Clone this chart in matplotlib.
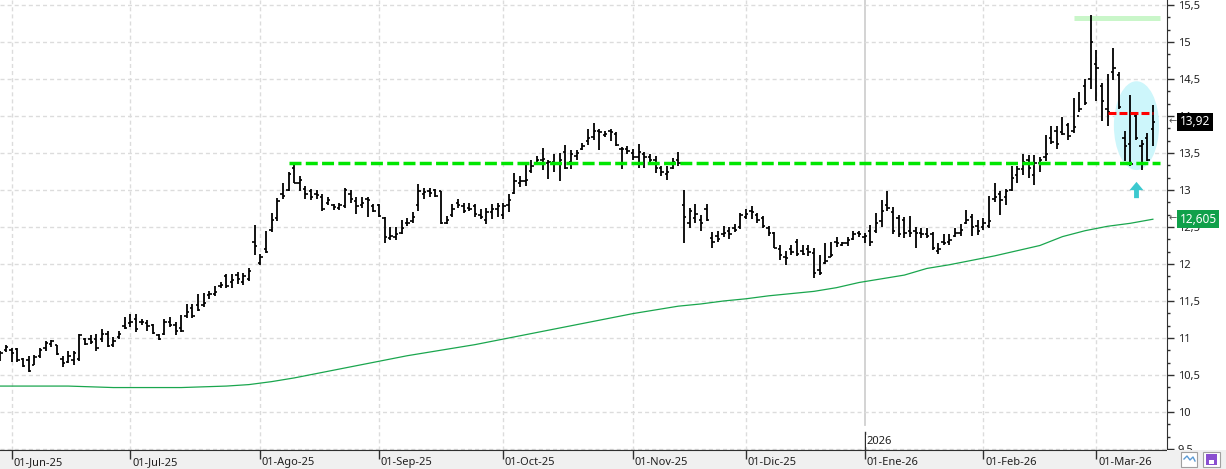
#!/usr/bin/env python3
import numpy as np
import pandas as pd
import matplotlib
matplotlib.use('Agg')
import matplotlib.pyplot as plt
from matplotlib.patches import Ellipse, Rectangle
from matplotlib.lines import Line2D
from matplotlib.ticker import MultipleLocator, FuncFormatter
from matplotlib.transforms import blended_transform_factory

plt.rcParams['font.family'] = ['Noto Sans', 'DejaVu Sans']

# trading calendar
START = '2025-05-29'
HOLIDAYS = ['2025-12-25', '2025-12-26', '2026-01-01']
MONTH_LABELS = ['01-Jun-25', '01-Jul-25', '01-Ago-25', '01-Sep-25', '01-Oct-25',
                '01-Nov-25', '01-Dic-25', '01-Ene-26', '01-Feb-26', '01-Mar-26']

# daily bars
OPENS = [10.75, 10.84, 10.84, 10.85, 10.72, 10.70, 10.64, 10.76, 10.86, 10.92,
         10.90, 10.72, 10.68, 10.70, 10.72, 10.98, 10.98, 10.98, 10.98, 11.05,
         10.90, 11.02, 11.16, 11.20, 11.25, 11.22, 11.20, 11.17, 11.04, 11.05,
         11.22, 11.18, 11.14, 11.30, 11.40, 11.45, 11.44, 11.58, 11.60, 11.70,
         11.84, 11.76, 11.85, 11.76, 11.80, 12.30, 12.02, 12.20, 12.46, 12.62,
         12.95, 13.00, 13.30, 13.10, 13.02, 12.98, 12.95, 12.90, 12.82, 12.80,
         12.76, 12.78, 12.95, 12.85, 12.80, 12.88, 12.78, 12.80, 12.62, 12.35,
         12.36, 12.42, 12.56, 12.58, 12.80, 12.95, 12.98, 13.00, 12.98, 12.56,
         12.66, 12.82, 12.78, 12.76, 12.78, 12.66, 12.60, 12.70, 12.74, 12.66,
         12.80, 12.96, 13.10, 13.12, 13.26, 13.36, 13.40, 13.36, 13.38, 13.36,
         13.52, 13.38, 13.46, 13.56, 13.66, 13.72, 13.80, 13.74, 13.80, 13.76,
         13.55, 13.56, 13.50, 13.45, 13.48, 13.44, 13.40, 13.30, 13.22, 13.30,
         13.40, 12.80, 12.55, 12.62, 12.60, 12.75, 12.35, 12.38, 12.40, 12.44,
         12.48, 12.50, 12.64, 12.72, 12.66, 12.62, 12.48, 12.42, 12.20, 12.10,
         12.20, 12.30, 12.18, 12.20, 12.15, 11.92, 12.02, 12.10, 12.30, 12.26,
         12.28, 12.34, 12.42, 12.36, 12.45, 12.45, 12.58, 12.80, 12.70, 12.62,
         12.60, 12.45, 12.44, 12.42, 12.40, 12.40, 12.18, 12.30, 12.30, 12.38,
         12.42, 12.56, 12.64, 12.52, 12.50, 12.52, 12.88, 12.95, 12.90, 13.00,
         13.20, 13.28, 13.40, 13.20, 13.36, 13.44, 13.70, 13.80, 13.78, 13.88,
         13.80, 14.00, 14.40, 14.50, 14.70, 14.40, 14.10, 14.60, 14.55, 13.70,
         13.62, 14.00, 13.60, 13.70, 13.82]
HIGHS = [10.83, 10.90, 10.86, 10.87, 10.73, 10.75, 10.77, 10.86, 10.96, 10.97,
         10.90, 10.75, 10.83, 10.83, 11.06, 11.00, 11.04, 11.06, 11.12, 11.09,
         11.01, 11.09, 11.28, 11.32, 11.33, 11.26, 11.24, 11.19, 11.06, 11.26,
         11.28, 11.21, 11.31, 11.46, 11.46, 11.59, 11.61, 11.64, 11.70, 11.75,
         11.86, 11.86, 11.89, 11.88, 11.94, 12.53, 12.13, 12.44, 12.69, 12.89,
         13.09, 13.25, 13.36, 13.19, 13.05, 13.01, 13.00, 12.95, 12.91, 12.81,
         12.82, 13.03, 13.00, 12.90, 12.90, 12.91, 12.81, 12.81, 12.64, 12.50,
         12.50, 12.60, 12.62, 12.70, 13.08, 13.03, 13.03, 13.01, 12.99, 12.65,
         12.81, 12.88, 12.82, 12.82, 12.81, 12.75, 12.76, 12.81, 12.83, 12.82,
         12.94, 13.23, 13.19, 13.36, 13.40, 13.46, 13.57, 13.41, 13.48, 13.50,
         13.61, 13.54, 13.54, 13.64, 13.83, 13.90, 13.82, 13.80, 13.82, 13.78,
         13.58, 13.60, 13.55, 13.62, 13.51, 13.48, 13.46, 13.33, 13.32, 13.43,
         13.51, 13.00, 12.76, 12.81, 12.66, 12.81, 12.43, 12.44, 12.52, 12.50,
         12.54, 12.69, 12.75, 12.78, 12.69, 12.65, 12.52, 12.43, 12.25, 12.18,
         12.26, 12.34, 12.25, 12.25, 12.21, 12.12, 12.29, 12.30, 12.37, 12.30,
         12.37, 12.45, 12.44, 12.42, 12.53, 12.69, 12.86, 12.98, 12.77, 12.66,
         12.64, 12.65, 12.50, 12.48, 12.48, 12.43, 12.28, 12.40, 12.40, 12.49,
         12.54, 12.73, 12.68, 12.59, 12.62, 12.92, 13.09, 12.98, 13.02, 13.32,
         13.32, 13.48, 13.47, 13.47, 13.45, 13.74, 13.86, 13.86, 13.98, 13.90,
         14.24, 14.32, 14.50, 15.37, 14.89, 14.45, 14.57, 14.92, 14.60, 13.80,
         14.29, 14.02, 13.68, 13.77, 14.15]
LOWS = [10.69, 10.81, 10.68, 10.68, 10.61, 10.54, 10.63, 10.73, 10.83, 10.88,
        10.77, 10.61, 10.66, 10.63, 10.69, 10.90, 10.92, 10.83, 10.95, 10.88,
        10.88, 10.99, 11.12, 11.15, 11.08, 11.17, 11.10, 11.06, 10.97, 11.04,
        11.15, 11.04, 11.08, 11.27, 11.27, 11.36, 11.42, 11.53, 11.57, 11.67,
        11.68, 11.67, 11.73, 11.71, 11.77, 12.12, 11.98, 12.15, 12.43, 12.58,
        12.88, 12.98, 13.09, 12.99, 12.88, 12.87, 12.88, 12.71, 12.80, 12.73,
        12.73, 12.76, 12.83, 12.67, 12.76, 12.63, 12.70, 12.64, 12.29, 12.32,
        12.33, 12.40, 12.52, 12.56, 12.72, 12.88, 12.91, 12.90, 12.54, 12.54,
        12.63, 12.76, 12.69, 12.72, 12.64, 12.61, 12.54, 12.61, 12.63, 12.61,
        12.70, 12.94, 13.04, 13.05, 13.23, 13.34, 13.27, 13.15, 13.25, 13.12,
        13.28, 13.28, 13.41, 13.54, 13.61, 13.68, 13.54, 13.72, 13.66, 13.59,
        13.28, 13.48, 13.41, 13.30, 13.30, 13.34, 13.23, 13.19, 13.13, 13.28,
        13.32, 12.29, 12.48, 12.56, 12.45, 12.58, 12.21, 12.30, 12.36, 12.34,
        12.43, 12.47, 12.61, 12.61, 12.56, 12.48, 12.38, 12.21, 12.05, 11.99,
        12.12, 12.11, 12.12, 12.11, 11.81, 11.85, 12.00, 12.09, 12.23, 12.24,
        12.24, 12.32, 12.36, 12.29, 12.24, 12.42, 12.50, 12.71, 12.41, 12.37,
        12.35, 12.37, 12.21, 12.35, 12.35, 12.19, 12.14, 12.26, 12.26, 12.36,
        12.38, 12.54, 12.38, 12.39, 12.46, 12.48, 12.84, 12.66, 12.80, 12.99,
        13.09, 13.20, 13.16, 13.07, 13.25, 13.39, 13.62, 13.56, 13.74, 13.68,
        13.77, 14.05, 14.15, 14.37, 14.20, 13.93, 13.86, 14.49, 14.09, 13.39,
        13.32, 13.68, 13.27, 13.39, 13.59]
CLOSES = [10.80, 10.88, 10.80, 10.70, 10.62, 10.56, 10.74, 10.84, 10.93, 10.96,
          10.78, 10.66, 10.76, 10.80, 11.04, 10.92, 10.95, 10.86, 11.05, 10.89,
          10.96, 11.05, 11.14, 11.22, 11.12, 11.21, 11.16, 11.07, 10.99, 11.22,
          11.18, 11.10, 11.09, 11.35, 11.30, 11.38, 11.47, 11.60, 11.62, 11.72,
          11.70, 11.78, 11.80, 11.84, 11.90, 12.24, 12.10, 12.16, 12.60, 12.85,
          12.92, 13.22, 13.10, 13.14, 12.95, 12.90, 12.93, 12.74, 12.86, 12.77,
          12.80, 13.00, 12.88, 12.78, 12.83, 12.86, 12.72, 12.65, 12.36, 12.38,
          12.40, 12.48, 12.55, 12.64, 12.98, 12.97, 12.96, 12.92, 12.56, 12.60,
          12.74, 12.80, 12.72, 12.74, 12.68, 12.64, 12.70, 12.74, 12.78, 12.78,
          12.86, 13.12, 13.12, 13.14, 13.32, 13.40, 13.42, 13.38, 13.35, 13.40,
          13.30, 13.48, 13.50, 13.60, 13.70, 13.80, 13.78, 13.76, 13.78, 13.61,
          13.56, 13.53, 13.45, 13.52, 13.44, 13.40, 13.30, 13.25, 13.24, 13.38,
          13.36, 12.64, 12.72, 12.68, 12.56, 12.60, 12.30, 12.34, 12.42, 12.40,
          12.46, 12.66, 12.68, 12.70, 12.60, 12.52, 12.42, 12.22, 12.12, 12.08,
          12.16, 12.14, 12.14, 12.16, 11.88, 11.88, 12.04, 12.12, 12.28, 12.28,
          12.32, 12.40, 12.40, 12.38, 12.30, 12.56, 12.72, 12.76, 12.45, 12.40,
          12.42, 12.42, 12.42, 12.40, 12.38, 12.22, 12.20, 12.28, 12.32, 12.42,
          12.46, 12.60, 12.50, 12.45, 12.55, 12.58, 12.90, 12.86, 12.98, 13.16,
          13.28, 13.38, 13.30, 13.36, 13.40, 13.48, 13.65, 13.62, 13.76, 13.73,
          13.85, 14.10, 14.18, 15.00, 14.65, 14.20, 14.05, 14.65, 14.12, 13.60,
          13.35, 13.70, 13.62, 13.40, 13.92]

# moving average, one value every MA_STEP bars
MA_STEP = 4
MA_LONG = [10.35, 10.35, 10.35, 10.35, 10.34, 10.33, 10.33, 10.33, 10.33, 10.34,
           10.35, 10.37, 10.41, 10.46, 10.52, 10.58, 10.64, 10.70, 10.76, 10.81,
           10.86, 10.91, 10.97, 11.03, 11.09, 11.15, 11.21, 11.27, 11.33, 11.38,
           11.43, 11.46, 11.50, 11.53, 11.57, 11.60, 11.63, 11.68, 11.75, 11.80,
           11.85, 11.94, 11.99, 12.05, 12.11, 12.18, 12.25, 12.37, 12.45, 12.51,
           12.55, 12.605]

SUPPORT = 13.36
RESIST = 14.04
TOP_LEVEL = 15.32


def comma(v, pos=None):
    return f'{v:g}'.replace('.', ',')


def main():
    n = len(CLOSES)
    days = pd.bdate_range(START, periods=n + 10)
    days = days[~days.isin(pd.to_datetime(HOLIDAYS))][:n]
    x = np.arange(n)
    firsts = [i for i in range(1, n) if days[i].month != days[i - 1].month]
    new_year = [i for i in firsts if days[i].year != days[i - 1].year]

    W, H = 1226, 469
    fig = plt.figure(figsize=(W / 100, H / 100), dpi=100)
    ax = fig.add_axes([0, 19 / H, 1167 / W, 450 / H], zorder=1)
    ax.set_xlim(-0.07, 206.5)
    ax.set_ylim(9.486, 15.568)

    # grid
    grid_ls = (0, (2.9, 2.2))
    for i in firsts:
        if i in new_year:
            ax.axvline(i, ymin=0.055, color='#d0d0d0', lw=1.3, zorder=0)
        else:
            ax.axvline(i, color='#dcdcdc', lw=1, linestyle=grid_ls, zorder=0)
    ax.yaxis.set_major_locator(MultipleLocator(0.5))
    ax.yaxis.set_minor_locator(MultipleLocator(0.5 / 3))
    ax.yaxis.set_major_formatter(FuncFormatter(comma))
    ax.grid(True, axis='y', which='major', color='#dcdcdc', lw=1, linestyle=grid_ls)
    ax.set_axisbelow(True)

    # annotations behind the bars
    ax.add_patch(Ellipse((201.1, 13.87), 8.0, 1.2, fc='#cdf6fb', ec='none', zorder=1))
    ax.plot([190.0, 205.2], [TOP_LEVEL] * 2, color='#c9f6c9', lw=3.6,
            solid_capstyle='butt', zorder=1)

    # moving average
    ax.plot(x[::MA_STEP], MA_LONG, color='#1aa64e', lw=0.9, zorder=2)

    # OHLC bars
    ax.vlines(x, LOWS, HIGHS, color='black', lw=1.3, zorder=3)
    ax.hlines(OPENS, x - 0.42, x, color='black', lw=1.2, zorder=3)
    ax.hlines(CLOSES, x, x + 0.42, color='black', lw=1.2, zorder=3)

    # support / resistance
    ax.plot([51.1, 205.2], [SUPPORT] * 2, color='#00e600', lw=2.5,
            dashes=(3.45, 1.24), zorder=4)
    ax.plot([196.0, 204.0], [RESIST] * 2, color='#ff0000', lw=2.2,
            dashes=(2.6, 1.0), zorder=4)
    ax.annotate('', xy=(201.1, 13.11), xytext=(201.1, 12.89),
                arrowprops=dict(arrowstyle='simple,head_length=0.6,head_width=1.0,tail_width=0.35',
                                fc='#3cc9cf', ec='none', shrinkA=0, shrinkB=0))

    # axes styling
    for s in ('left', 'top'):
        ax.spines[s].set_visible(False)
    ax.spines['right'].set_color('#303030')
    ax.spines['bottom'].set_color('#303030')
    ax.tick_params(axis='x', which='both', bottom=False, labelbottom=False)
    ax.yaxis.tick_right()
    ax.tick_params(axis='y', which='major', length=4.8, width=1, color='#303030',
                   pad=2.9, labelsize=8, labelcolor='#202020')
    ax.tick_params(axis='y', which='minor', length=2.4, width=1, color='#303030')

    # year marker
    tr_x = blended_transform_factory(ax.transData, ax.transAxes)
    for i in new_year:
        ax.plot([i, i], [0, 0.04], color='#303030', lw=1, transform=tr_x, zorder=5)
        ax.text(i + 0.3, 0.02, str(days[i].year), transform=tr_x, fontsize=8,
                va='center', ha='left', color='#202020', zorder=5,
                bbox=dict(fc='white', ec='none', pad=0.5))

    # last value labels (they sit over the axis labels, as in the source)
    tr_y = blended_transform_factory(ax.transAxes, ax.transData)
    ax.text(1.0015, CLOSES[-1], '←', transform=tr_y, fontsize=7, color='#505050',
            va='center', ha='left', clip_on=False)
    ax.text(1.011, CLOSES[-1], f'{CLOSES[-1]:.2f}'.replace('.', ','), transform=tr_y,
            fontsize=8.5, color='white', va='center', ha='left', clip_on=False,
            bbox=dict(fc='black', ec='none', pad=1.8))
    ax.text(1.0015, MA_LONG[-1], '←', transform=tr_y, fontsize=7, color='#505050',
            va='center', ha='left', clip_on=False)
    ax.text(1.011, MA_LONG[-1], f'{MA_LONG[-1]:.3f}'.replace('.', ','), transform=tr_y,
            fontsize=8.5, color='white', va='center', ha='left', clip_on=False,
            bbox=dict(fc='#10a04a', ec='none', pad=1.8))

    # date strip
    axd = fig.add_axes([0, 0, 1167 / W, 19 / H], zorder=2)
    axd.set_xlim(ax.get_xlim())
    axd.set_ylim(0, 1)
    axd.set_facecolor('#f0f0f0')
    axd.set_xticks([])
    axd.set_yticks([])
    for s in ('left', 'right', 'bottom'):
        axd.spines[s].set_visible(False)
    axd.spines['top'].set_color('#303030')
    axd.vlines(firsts, 0.55, 1, color='#303030', lw=1)
    for i, lab in zip(firsts, MONTH_LABELS):
        axd.text(i + 0.3, 0.36, lab, fontsize=8, va='center', ha='left', color='#202020')

    fig.add_artist(Rectangle((1167 / W, 0), 59 / W, 19 / H, transform=fig.transFigure,
                             fc='#f0f0f0', ec='none', zorder=4))
    # small toolbar icons
    fig.add_artist(Rectangle((1181 / W, 2 / H), 16 / W, 15 / H, transform=fig.transFigure,
                             fc='white', ec='#a0a0a0', lw=0.8, zorder=5))
    fig.add_artist(Line2D(np.array([1184, 1187, 1190, 1193, 1195]) / W,
                          np.array([10, 13, 9, 12, 8]) / H, transform=fig.transFigure,
                          color='#5b9bd5', lw=1, zorder=6))
    fig.add_artist(Rectangle((1203 / W, 2 / H), 17 / W, 15 / H, transform=fig.transFigure,
                             fc='white', ec='#a0a0a0', lw=0.8, zorder=5))
    fig.add_artist(Rectangle((1206 / W, 4 / H), 11 / W, 11 / H, transform=fig.transFigure,
                             fc='#8a4fd0', ec='none', zorder=6))
    fig.add_artist(Rectangle((1209 / W, 5 / H), 5 / W, 4 / H, transform=fig.transFigure,
                             fc='white', ec='none', zorder=7))

    fig.savefig('out.png', dpi=100, facecolor='white')


if __name__ == '__main__':
    main()
